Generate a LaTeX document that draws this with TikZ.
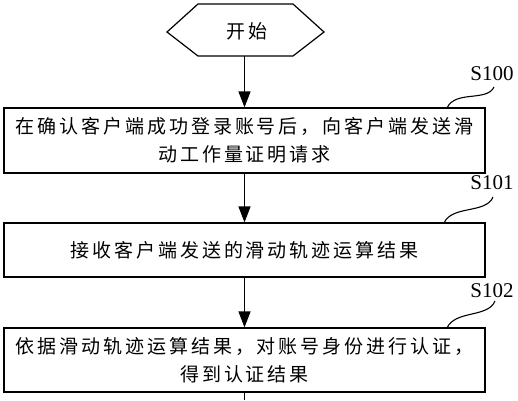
\documentclass[tikz,border=0pt]{standalone}
\usepackage{fontspec}
\setmainfont{Liberation Serif}
\newfontfamily\cjk[LetterSpace=15.3]{Noto Sans CJK SC}
\usetikzlibrary{arrows.meta}
\begin{document}
\begin{tikzpicture}[x=1pt,y=-1pt,
  line width=1.2pt,
  stepbox/.style={draw, minimum width=481pt, inner sep=0pt, align=center,
    font=\cjk\fontsize{19}{28}\selectfont},
  arr/.style={-{Triangle[length=16pt,width=12pt]}},
  lbl/.style={font=\fontsize{21}{21}\selectfont, inner sep=0pt},
  wave/.style={line width=1.1pt}]
\useasboundingbox (0,0) rectangle (518,400);
% start hexagon
\draw (167,32) -- (198,4) -- (293,4) -- (324,32) -- (293,56) -- (198,56) -- cycle;
\node[font=\cjk\fontsize{19}{19}\selectfont, inner sep=0pt] (start) at (247,31) {开始};
\coordinate (hexb) at (244.5,56);
% boxes
\node[stepbox, minimum height=65pt] (s100) at (244.5,140.5)
  {在确认客户端成功登录账号后，向客户端发送滑\\动工作量证明请求};
\node[stepbox, minimum height=54pt] (s101) at (244.5,250)
  {接收客户端发送的滑动轨迹运算结果};
\node[stepbox, minimum height=64pt] (s102) at (244.5,360)
  {依据滑动轨迹运算结果，对账号身份进行认证，\\得到认证结果};
\coordinate (bot) at (244.5,400);
% arrows
\draw[arr] (hexb) -- (s100.north);
\draw[arr] (s100.south) -- (s101.north);
\draw[arr] (s101.south) -- (s102.north);
\draw (s102.south) -- (bot);
% labels
\node[lbl] (l100) at (492,74) {S100};
\node[lbl] (l101) at (492,183) {S101};
\node[lbl] (l102) at (492,291) {S102};
\coordinate (c100) at (447,108);
\coordinate (c101) at (444,223);
\coordinate (c102) at (447,328);
\draw[wave] (c100) .. controls (455,90) and (487,102) .. (494,87);
\draw[wave] (c101) .. controls (452,205) and (486,214) .. (493,197);
\draw[wave] (c102) .. controls (455,310) and (488,318) .. (495,301);
\end{tikzpicture}
\end{document}
